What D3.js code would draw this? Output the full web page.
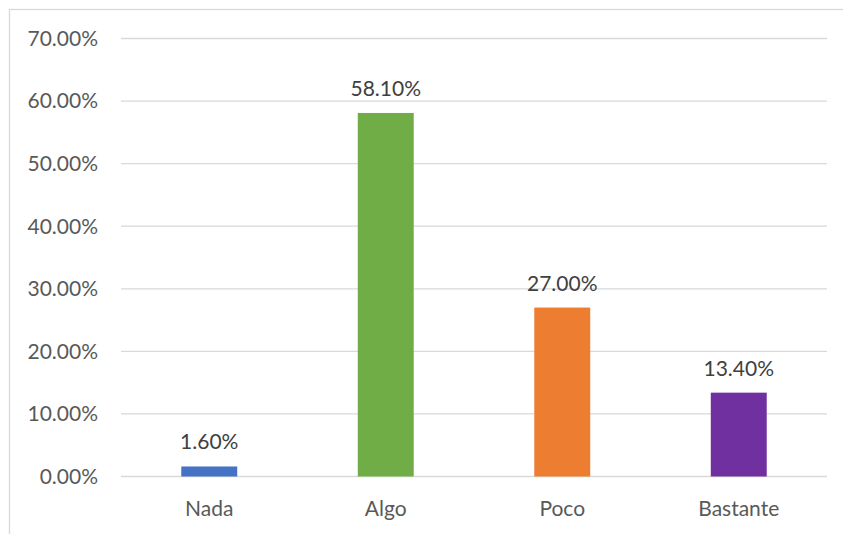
<!DOCTYPE html>
<html lang="es">
  <head>
    <meta charset="utf-8">
    <title>Chart</title>
    <script src="https://cdn.jsdelivr.net/npm/d3@7"></script>
    <style>
      body { margin: 0; background: #fff; }
      text { font-family: Lato, "Open Sans", sans-serif; }
    </style>
  </head>
  <body>
    <script>
      const categories = ["Nada", "Algo", "Poco", "Bastante"];
      const values = [0.016, 0.581, 0.27, 0.134];
      const colors = ["#4472c4", "#70ad47", "#ed7d31", "#7030a0"];
      const yTicks = [0, 0.1, 0.2, 0.3, 0.4, 0.5, 0.6, 0.7];

      const W = 843, H = 534;
      const FONT = 21;
      var svg = d3.select("body").append("svg")
        .attr("width", W)
        .attr("height", H);

      // chart frame (runs off the right/bottom edge like the original)
      svg.append("rect")
        .attr("x", 9.5).attr("y", 9.5)
        .attr("width", 860).attr("height", 560)
        .attr("fill", "none")
        .attr("stroke", "#d9d9d9")
        .attr("stroke-width", 1.3);

      var x = d3.scaleBand()
        .domain(categories)
        .range([121, 827])
        .paddingInner(0.683)
        .paddingOuter(0.3415);

      var y = d3.scaleLinear()
        .domain([0, 0.7])
        .range([476.5, 38.5]);

      var fmt = d3.format(".2%");

      // gridlines
      svg.append("g")
        .selectAll("line")
        .data(yTicks)
        .join("line")
        .attr("x1", 121).attr("x2", 827)
        .attr("y1", d => y(d)).attr("y2", d => y(d))
        .attr("stroke", "#d9d9d9")
        .attr("stroke-width", 1.3);

      // y tick labels
      svg.append("g")
        .selectAll("text")
        .data(yTicks)
        .join("text")
        .attr("x", 98)
        .attr("y", d => y(d))
        .attr("dy", "0.35em")
        .attr("text-anchor", "end")
        .attr("fill", "#595959")
        .attr("font-size", FONT)
        .text(d => fmt(d));

      // bars
      svg.append("g")
        .selectAll("rect")
        .data(categories)
        .join("rect")
        .attr("x", d => x(d))
        .attr("y", (d, i) => y(values[i]))
        .attr("width", x.bandwidth())
        .attr("height", (d, i) => y(0) - y(values[i]))
        .attr("fill", (d, i) => colors[i]);

      // value labels
      svg.append("g")
        .selectAll("text")
        .data(categories)
        .join("text")
        .attr("x", d => x(d) + x.bandwidth() / 2)
        .attr("y", (d, i) => y(values[i]) - 17)
        .attr("text-anchor", "middle")
        .attr("fill", "#404040")
        .attr("font-size", FONT)
        .text((d, i) => fmt(values[i]));

      // category labels
      svg.append("g")
        .selectAll("text")
        .data(categories)
        .join("text")
        .attr("x", d => x(d) + x.bandwidth() / 2)
        .attr("y", 516)
        .attr("text-anchor", "middle")
        .attr("fill", "#595959")
        .attr("font-size", FONT)
        .text(d => d);
    </script>
  </body>
</html>
